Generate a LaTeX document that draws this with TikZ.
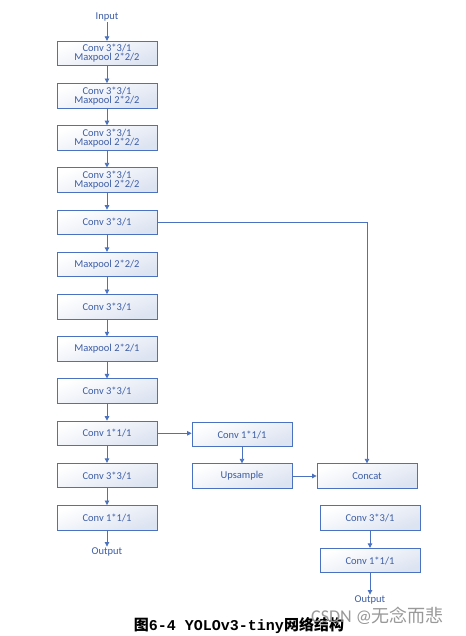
\documentclass[tikz,border=0pt]{standalone}
\usepackage{fontspec}
\setmainfont{Carlito}
\newfontfamily\cjkfont{Noto Sans CJK SC}
\newfontfamily\capmono{Liberation Mono}
\usetikzlibrary{arrows.meta}
\definecolor{boxblue}{HTML}{4A72C0}
\definecolor{txtblue}{HTML}{3C5DA6}
\definecolor{fillblue}{HTML}{DCE3F1}
\begin{document}
\begin{tikzpicture}[x=1pt,y=-1pt,
  box/.style={draw=boxblue, line width=0.8pt, minimum width=100pt, minimum height=24.5pt,
    inner sep=0pt, top color=white, bottom color=fillblue, shading angle=20,
    font=\fontsize{10.5}{11}\selectfont, text=txtblue, align=center},
  lbl/.style={font=\fontsize{10.5}{11}\selectfont, text=txtblue, inner sep=1pt},
  conn/.style={draw=boxblue, line width=0.8pt, -{Triangle[length=4.5pt,width=4.5pt]}}]
\useasboundingbox (0,0) rectangle (465,636);
\fill[white] (0,0) rectangle (465,636);
\node[lbl] (in) at (107,17) {Input};
\node[box] (b1) at (107,53.5) {Conv 3*3/1\\[-2pt]Maxpool 2*2/2};
\node[box] (b2) at (107,95.7) {Conv 3*3/1\\[-2pt]Maxpool 2*2/2};
\node[box] (b3) at (107,137.9) {Conv 3*3/1\\[-2pt]Maxpool 2*2/2};
\node[box] (b4) at (107,180.1) {Conv 3*3/1\\[-2pt]Maxpool 2*2/2};
\node[box] (b5) at (107,222.3) {Conv 3*3/1};
\node[box] (b6) at (107,264.5) {Maxpool 2*2/2};
\node[box] (b7) at (107,306.7) {Conv 3*3/1};
\node[box] (b8) at (107,348.9) {Maxpool 2*2/1};
\node[box] (b9) at (107,391.1) {Conv 3*3/1};
\node[box] (b10) at (107,433.3) {Conv 1*1/1};
\node[box] (b11) at (107,475.5) {Conv 3*3/1};
\node[box] (b12) at (107,517.7) {Conv 1*1/1};
\node[lbl] (out1) at (107,552) {Output};
\node[box] (c1) at (242,434.5) {Conv 1*1/1};
\node[box] (up) at (242,476) {Upsample};
\node[box] (cat) at (367,476) {Concat};
\node[box] (r1) at (370,518) {Conv 3*3/1};
\node[box] (r2) at (370,560.5) {Conv 1*1/1};
\node[lbl] (out2) at (370,600) {Output};
\coordinate (k) at (367,222.3);
\draw[conn] (in) -- (b1);
\draw[conn] (b1) -- (b2);
\draw[conn] (b2) -- (b3);
\draw[conn] (b3) -- (b4);
\draw[conn] (b4) -- (b5);
\draw[conn] (b5) -- (b6);
\draw[conn] (b6) -- (b7);
\draw[conn] (b7) -- (b8);
\draw[conn] (b8) -- (b9);
\draw[conn] (b9) -- (b10);
\draw[conn] (b10) -- (b11);
\draw[conn] (b11) -- (b12);
\draw[conn] (b12) -- (out1);
\draw[conn] (b10.east) -- (c1.west |- b10.east);
\draw[conn] (c1) -- (up);
\draw[conn] (up) -- (cat);
\draw[conn] (b5.east) -- (k) -- (cat.north);
\draw[conn] (r1) -- (r2);
\draw[conn] (r2) -- (out2);
\node[font=\fontsize{15}{15}\selectfont\bfseries, anchor=center, inner sep=0pt] (cap) at (239,626) {\cjkfont 图\capmono 6-4 YOLOv3-tiny\cjkfont 网络结构};
\node[font=\fontsize{18}{18}\selectfont, text=black!40, anchor=west, inner sep=0pt] (wm) at (311,616) {CSDN @\cjkfont 无念而悲};
\end{tikzpicture}
\end{document}
